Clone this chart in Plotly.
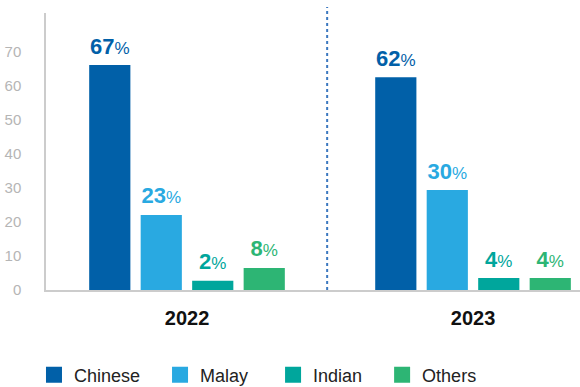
import plotly.graph_objects as go

years = ["2022", "2023"]
groups = ["Chinese", "Malay", "Indian", "Others"]
colors = ["#0160A8", "#29A9E1", "#00A69C", "#2DB574"]
# bar heights as drawn in the picture
heights = {
    "Chinese": [66.2, 62.6],
    "Malay": [22.1, 29.4],
    "Indian": [2.7, 3.5],
    "Others": [6.5, 3.5],
}
# printed labels (%)
labels = {
    "Chinese": [67, 62],
    "Malay": [23, 30],
    "Indian": [2, 4],
    "Others": [8, 4],
}
yticks = [0, 10, 20, 30, 40, 50, 60, 70]
legend_pad = {"Chinese": 3, "Malay": 4, "Indian": 3, "Others": 0}

FONT = "Liberation Sans, Arial, Helvetica, sans-serif"

fig = go.Figure()
for g, c in zip(groups, colors):
    fig.add_trace(go.Bar(
        x=years, y=heights[g], name=g, marker_color=c, marker_line_width=0,
        offsetgroup=g, showlegend=False, hoverinfo="skip",
    ))
    fig.add_trace(go.Scatter(
        x=years, y=heights[g], mode="text+markers", offsetgroup=g,
        marker=dict(size=8, opacity=0, color=c),
        text=[f"<b>{v}</b><span style='font-size:17px'>%</span>" for v in labels[g]],
        textposition="top center",
        textfont=dict(family=FONT, size=22, color=c),
        showlegend=False, hoverinfo="skip", cliponaxis=False,
    ))
    fig.add_trace(go.Scatter(
        x=[None], y=[None], mode="markers", name=g + "\u00a0" * legend_pad[g],
        marker=dict(symbol="square", size=16, color=c),
        showlegend=True,
    ))

fig.add_shape(type="line", xref="x", yref="paper", x0=0.49, x1=0.49, y0=0, y1=1.022,
              line=dict(color="#3C78C0", width=2, dash="dot"))

fig.update_layout(
    width=580, height=387,
    margin=dict(l=46, r=0, t=13, b=97, autoexpand=False),
    paper_bgcolor="white", plot_bgcolor="white",
    barmode="group", bargap=0.28, bargroupgap=0.2,
    scattermode="group", scattergap=0.28,
    font=dict(family=FONT),
    xaxis=dict(
        range=[-0.493, 1.374], showgrid=False, showline=True, linecolor="#CCCCCC",
        linewidth=1.5, ticks="", tickfont=dict(size=20, color="#111111"),
        tickprefix="<b>", ticksuffix="</b>", ticklabelstandoff=9, zeroline=False,
        automargin=False,
    ),
    yaxis=dict(
        range=[0, 81.5], tickvals=yticks, showgrid=False, showline=True,
        linecolor="#CCCCCC", linewidth=1.5, ticks="", zeroline=False,
        tickfont=dict(size=15, color="#B5B5B5"), ticklabelstandoff=20,
        automargin=False,
    ),
    legend=dict(
        orientation="h", x=-0.0225, xanchor="left", y=-0.307, yanchor="middle",
        font=dict(size=18, color="#222222"), itemclick=False,
    ),
    showlegend=True,
)

fig.write_html("out.html")
